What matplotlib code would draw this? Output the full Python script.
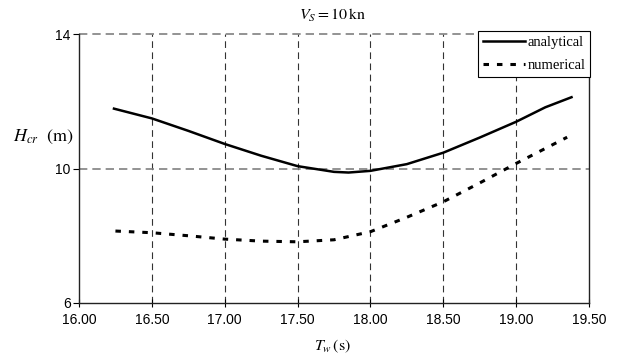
import matplotlib
matplotlib.use("Agg")
import matplotlib.pyplot as plt
from matplotlib.ticker import FormatStrFormatter

# Data
tw_analytical = [16.24, 16.5, 16.75, 17.0, 17.25, 17.5, 17.75, 17.85, 18.0, 18.25, 18.5, 18.75, 19.0, 19.2, 19.38]
h_analytical = [11.78, 11.49, 11.12, 10.73, 10.38, 10.07, 9.90, 9.88, 9.93, 10.13, 10.47, 10.92, 11.39, 11.82, 12.12]
tw_numerical = [16.25, 16.5, 16.75, 17.0, 17.25, 17.5, 17.75, 18.0, 18.25, 18.5, 18.75, 19.0, 19.35]
h_numerical = [8.14, 8.09, 8.0, 7.90, 7.84, 7.82, 7.88, 8.12, 8.55, 9.01, 9.57, 10.15, 10.93]
x_ticks = [16.0, 16.5, 17.0, 17.5, 18.0, 18.5, 19.0, 19.5]
y_ticks = [6, 10, 14]

plt.rcParams['mathtext.fontset'] = 'stix'
serif = 'Liberation Serif'
sans = 'Liberation Sans'

fig = plt.figure(figsize=(6.2, 3.62), dpi=100)
ax = fig.add_axes([79/620, 1-303/362, (589-79)/620, (303-34)/362])

ax.set_xlim(16.0, 19.5)
ax.set_ylim(6, 14)
ax.set_xticks(x_ticks)
ax.set_yticks(y_ticks)
ax.xaxis.set_major_formatter(FormatStrFormatter('%.2f'))

for x in x_ticks[1:-1]:
    ax.axvline(x, color='#333333', lw=0.8, dashes=(6, 4), zorder=1)
for y in [10, 14]:
    ax.axhline(y, color='#808080', lw=1.2, dashes=(5, 3), zorder=1, clip_on=False)

ax.plot(tw_analytical, h_analytical, color='black', lw=1.8, label='analytical', zorder=3)
ax.plot(tw_numerical, h_numerical, color='black', lw=2.2, dashes=(1.8, 2.6), label='numerical', zorder=3)

ax.spines['top'].set_visible(False)
for s in ['left', 'bottom', 'right']:
    ax.spines[s].set_linewidth(1.0)
    ax.spines[s].set_color('#222222')

ax.tick_params(axis='x', direction='inout', length=6, width=0.8, pad=4)
ax.tick_params(axis='y', direction='out', length=4, width=0.8, pad=2)
for lab in ax.get_xticklabels() + ax.get_yticklabels():
    lab.set_fontfamily(sans)
    lab.set_fontsize(10)

fig.text(333/620, 1-15/362, r'$V_S = 10\,\mathrm{kn}$', ha='center', va='center', fontsize=11.5)
fig.text(333/620, 1-346/362, r'$T_w\,\mathrm{(s)}$', ha='center', va='center', fontsize=11.5)
fig.text(43/620, 1-137/362, r'$H_{cr}\ \ \mathrm{(m)}$', ha='center', va='center', fontsize=13)

leg = fig.legend(loc='upper right', bbox_to_anchor=(590/620, 1-31/362), frameon=True,
                 fancybox=False, prop={'family': serif, 'size': 10.5}, handlelength=2.9,
                 handletextpad=0.15, borderpad=0.32, labelspacing=0.7, borderaxespad=0)
leg.get_frame().set_edgecolor('black')
leg.get_frame().set_linewidth(0.8)
leg.get_frame().set_alpha(1)

fig.savefig('out.png', dpi=100)
